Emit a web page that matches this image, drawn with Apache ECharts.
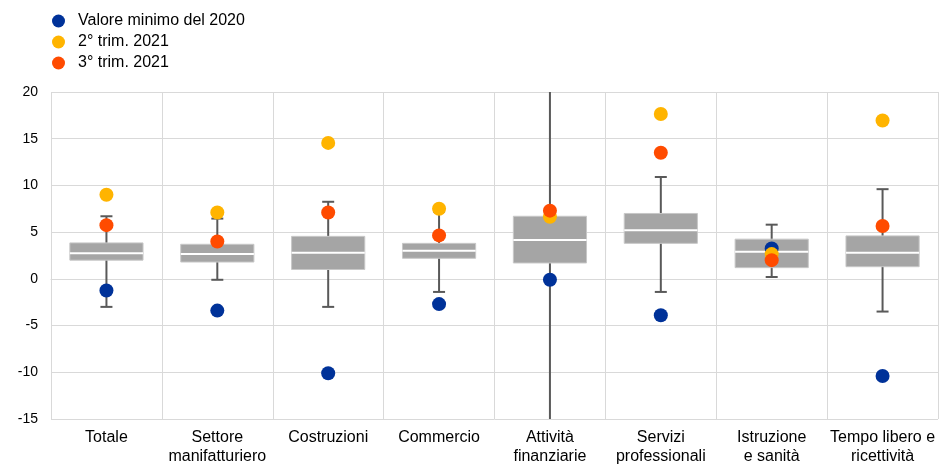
<!DOCTYPE html>
<html><head><meta charset="utf-8">
<script src="https://cdn.jsdelivr.net/npm/echarts@6/dist/echarts.min.js"></script>
<style>html,body{margin:0;padding:0;background:#fff}#c{width:939px;height:464px}</style>
</head><body><div id="c"></div>
<script>
var categories = ["Totale","Settore\nmanifatturiero","Costruzioni","Commercio","Attività\nfinanziarie","Servizi\nprofessionali","Istruzione\ne sanità","Tempo libero e\nricettività"];
// [low whisker, Q1, median, Q3, high whisker]
var whiskerLow  = [-3.0, -0.1, -3.0, -1.4, -20, -1.4, 0.2, -3.5];
var q1          = [2.0, 1.8, 1.0, 2.2, 1.7, 3.8, 1.2, 1.3];
var median      = [2.75, 2.65, 2.8, 3.0, 4.15, 5.2, 2.9, 2.8];
var q3          = [3.85, 3.7, 4.55, 3.8, 6.7, 7.0, 4.25, 4.6];
var whiskerHigh = [6.7, 6.45, 8.25, 7.2, 25, 10.9, 5.8, 9.6];
var min2020 = [-1.25, -3.4, -10.1, -2.7, -0.1, -3.9, 3.25, -10.4];
var q2_2021 = [9.0, 7.1, 14.55, 7.5, 6.65, 17.65, 2.65, 16.95];
var q3_2021 = [5.75, 4.0, 7.1, 4.65, 7.3, 13.5, 2.0, 5.65];
var seriesNames = ["Valore minimo del 2020", "2° trim. 2021", "3° trim. 2021"];
var yTicks = {min: -15, max: 20, interval: 5};

var boxData = categories.map(function(c, i){
  return [i, whiskerLow[i], q1[i], median[i], q3[i], whiskerHigh[i]];
});

function renderBox(params, api){
  var idx = api.value(0);
  var pLow = api.coord([idx, api.value(1)]);
  var pQ1 = api.coord([idx, api.value(2)]);
  var pMed = api.coord([idx, api.value(3)]);
  var pQ3 = api.coord([idx, api.value(4)]);
  var pHigh = api.coord([idx, api.value(5)]);
  var bw = api.size([1, 0])[0] * 0.66;
  var cap = 12;
  var x = pMed[0];
  return {
    type: 'group',
    children: [
      {type:'line', shape:{x1:x, y1:pLow[1], x2:x, y2:pHigh[1]}, style:{stroke:'#595959', lineWidth:2}},
      {type:'line', shape:{x1:x-cap/2, y1:pLow[1], x2:x+cap/2, y2:pLow[1]}, style:{stroke:'#595959', lineWidth:2}},
      {type:'line', shape:{x1:x-cap/2, y1:pHigh[1], x2:x+cap/2, y2:pHigh[1]}, style:{stroke:'#595959', lineWidth:2}},
      {type:'rect', shape:{x:x-bw/2, y:pQ3[1], width:bw, height:pQ1[1]-pQ3[1]}, style:{fill:'#A5A5A5', stroke:'#C8C8C8', lineWidth:1}},
      {type:'line', shape:{x1:x-bw/2, y1:pMed[1], x2:x+bw/2, y2:pMed[1]}, style:{stroke:'#FFFFFF', lineWidth:2}}
    ]
  };
}

var chart = echarts.init(document.getElementById('c'), null, {renderer:'canvas'});
var ff = 'Liberation Sans, Arial, sans-serif';
chart.setOption({
  animation: false,
  textStyle: {fontFamily: ff},
  legend: {
    orient: 'vertical', left: 47, top: 8, itemGap: 5,
    itemWidth: 13, itemHeight: 13, icon: 'circle',
    textStyle: {fontSize: 16, color: '#000', fontFamily: ff, padding: [0, 0, 0, 8]},
    data: seriesNames
  },
  grid: {left: 51, right: 1, top: 92, bottom: 45, containLabel: false, outerBoundsMode: 'none'},
  xAxis: {
    type: 'category', data: categories, boundaryGap: true,
    axisLine: {show: true, lineStyle: {color: '#D9D9D9'}},
    axisTick: {show: false},
    splitLine: {show: true, lineStyle: {color: '#D9D9D9', width: 1}},
    axisLabel: {fontSize: 16, color: '#000', lineHeight: 19, margin: 9, interval: 0, fontFamily: ff}
  },
  yAxis: {
    type: 'value', min: yTicks.min, max: yTicks.max, interval: yTicks.interval,
    axisLine: {show: false}, axisTick: {show: false},
    splitLine: {show: true, lineStyle: {color: '#D9D9D9', width: 1}},
    axisLabel: {fontSize: 14, color: '#000', margin: 13, fontFamily: ff}
  },
  series: [
    {type: 'custom', renderItem: renderBox, data: boxData, clip: true,
     encode: {x: 0, y: [1,2,3,4,5]}, silent: true, z: 1},
    {name: seriesNames[0], type: 'scatter', symbol: 'circle', symbolSize: 14,
     itemStyle: {color: '#003299', opacity: 1}, data: min2020, z: 2},
    {name: seriesNames[1], type: 'scatter', symbol: 'circle', symbolSize: 14,
     itemStyle: {color: '#FFB400', opacity: 1}, data: q2_2021, z: 3},
    {name: seriesNames[2], type: 'scatter', symbol: 'circle', symbolSize: 14,
     itemStyle: {color: '#FF4B00', opacity: 1}, data: q3_2021, z: 4}
  ]
});
</script></body></html>
